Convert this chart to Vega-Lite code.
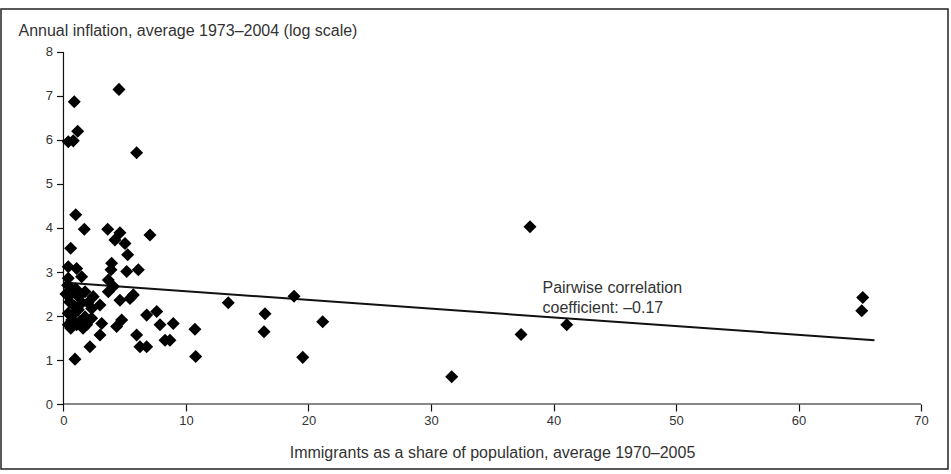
{
  "$schema": "https://vega.github.io/schema/vega-lite/v6.json",
  "width": 947,
  "height": 460,
  "autosize": "none",
  "padding": {"left": 1, "top": 9, "right": 3, "bottom": 5},
  "background": "white",
  "config": {
    "view": {"stroke": "#222", "strokeWidth": 1.5},
    "font": "Liberation Sans Narrow, Arial Narrow, Liberation Sans, sans-serif"
  },
  "datasets": {
    "pts": [
      {"x": 0.88, "y": 6.87}, {"x": 4.53, "y": 7.15}, {"x": 1.16, "y": 6.2}, {"x": 0.39, "y": 5.96},
      {"x": 0.8, "y": 5.98}, {"x": 5.97, "y": 5.71}, {"x": 1.0, "y": 4.3}, {"x": 1.7, "y": 3.97},
      {"x": 3.61, "y": 3.97}, {"x": 4.61, "y": 3.89}, {"x": 4.2, "y": 3.73}, {"x": 5.02, "y": 3.65},
      {"x": 5.24, "y": 3.39}, {"x": 7.06, "y": 3.84}, {"x": 0.59, "y": 3.54}, {"x": 0.39, "y": 3.12},
      {"x": 1.07, "y": 3.08}, {"x": 3.93, "y": 3.2}, {"x": 3.88, "y": 3.05}, {"x": 5.16, "y": 3.01},
      {"x": 6.11, "y": 3.05}, {"x": 1.48, "y": 2.89}, {"x": 0.39, "y": 2.86}, {"x": 3.66, "y": 2.82},
      {"x": 0.34, "y": 2.7}, {"x": 0.67, "y": 2.52}, {"x": 1.21, "y": 2.44}, {"x": 1.76, "y": 2.55},
      {"x": 3.66, "y": 2.55}, {"x": 4.07, "y": 2.67}, {"x": 4.61, "y": 2.36}, {"x": 5.43, "y": 2.4},
      {"x": 5.7, "y": 2.48}, {"x": 2.43, "y": 2.44}, {"x": 2.98, "y": 2.25}, {"x": 2.3, "y": 2.17},
      {"x": 0.39, "y": 2.06}, {"x": 0.67, "y": 1.91}, {"x": 1.21, "y": 2.14}, {"x": 1.07, "y": 1.8},
      {"x": 1.76, "y": 1.98}, {"x": 0.39, "y": 1.8}, {"x": 1.89, "y": 1.8}, {"x": 2.3, "y": 1.95},
      {"x": 3.12, "y": 1.83}, {"x": 2.98, "y": 1.57}, {"x": 2.16, "y": 1.3}, {"x": 0.94, "y": 1.02},
      {"x": 4.34, "y": 1.76}, {"x": 4.75, "y": 1.91}, {"x": 6.79, "y": 2.02}, {"x": 7.61, "y": 2.1},
      {"x": 7.88, "y": 1.8}, {"x": 8.96, "y": 1.83}, {"x": 5.97, "y": 1.57}, {"x": 6.24, "y": 1.3},
      {"x": 6.79, "y": 1.3}, {"x": 8.29, "y": 1.45}, {"x": 8.69, "y": 1.45}, {"x": 10.73, "y": 1.7},
      {"x": 10.79, "y": 1.08}, {"x": 13.45, "y": 2.3}, {"x": 18.82, "y": 2.45}, {"x": 16.45, "y": 2.05},
      {"x": 16.37, "y": 1.64}, {"x": 21.16, "y": 1.87}, {"x": 19.53, "y": 1.06}, {"x": 38.08, "y": 4.03},
      {"x": 37.35, "y": 1.58}, {"x": 41.08, "y": 1.8}, {"x": 31.69, "y": 0.62}, {"x": 65.24, "y": 2.42},
      {"x": 65.16, "y": 2.12},
      {"x": 0.5, "y": 2.32}, {"x": 0.9, "y": 2.22}, {"x": 1.35, "y": 1.88}, {"x": 0.6, "y": 1.72},
      {"x": 1.5, "y": 2.3}, {"x": 0.2, "y": 2.5}, {"x": 1.0, "y": 2.62}, {"x": 1.6, "y": 1.72},
      {"x": 0.75, "y": 2.02}, {"x": 2.0, "y": 2.3}
    ],
    "axislines": [
      {"x": 0, "y": 0, "x2": 70, "y2": 0},
      {"x": 0, "y": 0, "x2": 0, "y2": 8}
    ],
    "fit": [
      {"x": 0, "y": 2.76, "x2": 66.2, "y2": 1.45}
    ],
    "note": [
      {"x": 39.1, "y": 2.64, "label": "Pairwise correlation\ncoefficient: –0.17"}
    ]
  },
  "encoding": {
    "x": {
      "field": "x", "type": "quantitative",
      "scale": {"domain": [-5.1, 72.2], "nice": false, "zero": false},
      "axis": {
        "orient": "bottom", "offset": -65, "domain": false, "grid": false,
        "values": [0, 10, 20, 30, 40, 50, 60, 70],
        "tickSize": 7, "tickColor": "#111", "tickWidth": 1.2,
        "labelFontSize": 13, "labelColor": "#333", "labelPadding": 3,
        "title": "Immigrants as a share of population, average 1970–2005",
        "titleFontSize": 16, "titleFontWeight": "normal", "titleColor": "#333",
        "titleX": 491, "titleY": 48, "titleAlign": "center", "titleBaseline": "middle"
      }
    },
    "y": {
      "field": "y", "type": "quantitative",
      "scale": {"domain": [-1.477, 8.977], "nice": false, "zero": false},
      "axis": {
        "orient": "left", "offset": -62.5, "domain": false, "grid": false,
        "values": [0, 1, 2, 3, 4, 5, 6, 7, 8],
        "tickSize": 7, "tickColor": "#111", "tickWidth": 1.2,
        "labelFontSize": 13, "labelColor": "#333", "labelPadding": 4,
        "title": "Annual inflation, average 1973–2004 (log scale)",
        "titleFontSize": 16, "titleFontWeight": "normal", "titleColor": "#333",
        "titleAngle": 0, "titleX": -45.5, "titleY": 21, "titleAlign": "left", "titleBaseline": "middle"
      }
    }
  },
  "layer": [
    {
      "data": {"name": "axislines"},
      "mark": {"type": "rule", "color": "#111", "strokeWidth": 1.2},
      "encoding": {
        "x2": {"field": "x2"},
        "y2": {"field": "y2"}
      }
    },
    {
      "data": {"name": "fit"},
      "mark": {"type": "rule", "color": "#111", "strokeWidth": 2},
      "encoding": {
        "x2": {"field": "x2"},
        "y2": {"field": "y2"}
      }
    },
    {
      "data": {"name": "pts"},
      "mark": {"type": "point", "shape": "diamond", "filled": true, "color": "#000", "opacity": 1, "size": 170}
    },
    {
      "data": {"name": "note"},
      "mark": {"type": "text", "align": "left", "baseline": "middle", "fontSize": 16, "color": "#333", "lineBreak": "\n", "lineHeight": 20},
      "encoding": {
        "text": {"field": "label"}
      }
    }
  ]
}
